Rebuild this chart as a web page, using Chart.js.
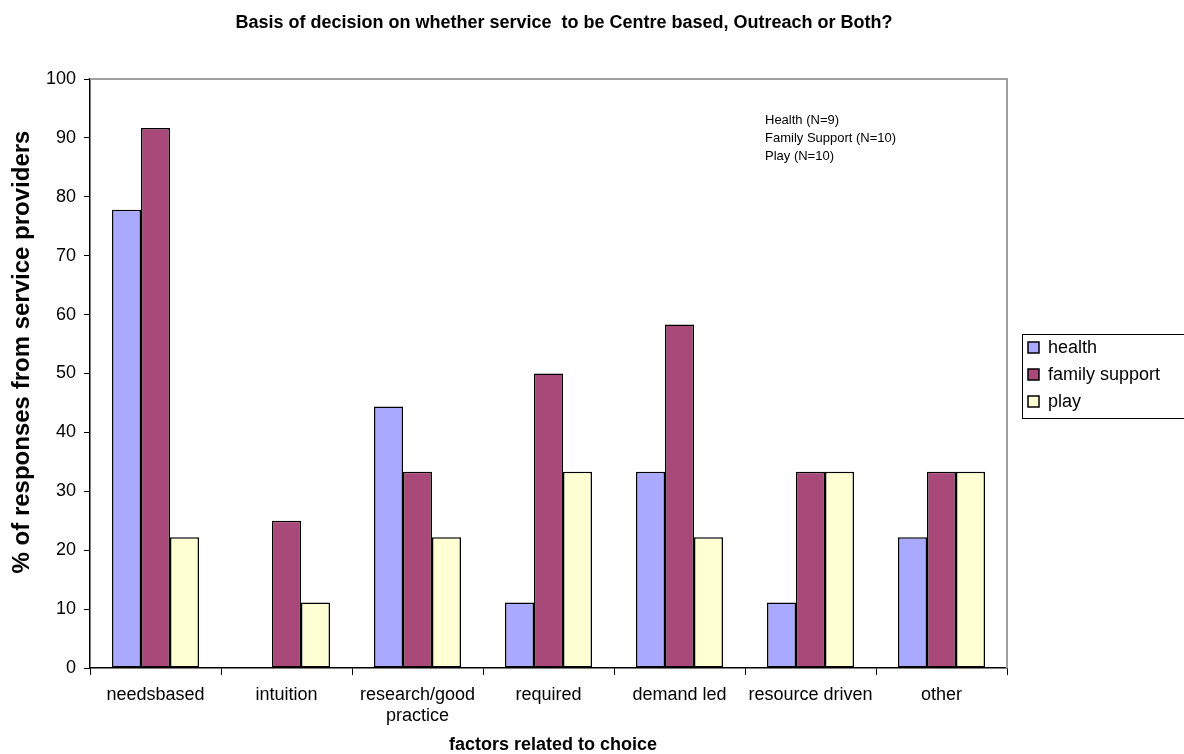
<!DOCTYPE html>
<html>
<head>
<meta charset="utf-8">
<script src="https://cdn.jsdelivr.net/npm/chart.js@4/dist/chart.umd.min.js"></script>
<style>
    html, body { margin: 0; padding: 0; background: #fff; }
    #wrap { width: 1184px; height: 754px; position: relative; }
</style>
</head>
<body>
<div id="wrap"><canvas id="chart-wrapper" width="1184" height="754"></canvas></div>
<script>
const categories = ['needsbased', 'intuition', ['research/good', 'practice'], 'required', 'demand led', 'resource driven', 'other'];
const health = [77.8, 0, 44.4, 11.1, 33.3, 11.1, 22.2];
const familySupport = [91.7, 25, 33.3, 50, 58.3, 33.3, 33.3];
const play = [22.2, 11.1, 22.2, 33.3, 22.2, 33.3, 33.3];
const notes = ['Health (N=9)', 'Family Support (N=10)', 'Play (N=10)'];

const FONT = '"Liberation Sans", Arial, sans-serif';

// titles, frame, sample-size note and legend box drawn by hand
const extras = {
    id: 'extras',
    afterDraw: (chart) => {
        const { ctx, chartArea: a } = chart;
        ctx.save();

        // grey frame on top and right of plot
        ctx.strokeStyle = '#a0a0a0';
        ctx.lineWidth = 2;
        ctx.beginPath();
        ctx.moveTo(a.left, a.top);
        ctx.lineTo(a.right, a.top);
        ctx.lineTo(a.right, a.bottom);
        ctx.stroke();

        ctx.fillStyle = '#000';
        ctx.textAlign = 'center';
        ctx.textBaseline = 'middle';
        ctx.font = 'bold 18px ' + FONT;
        ctx.fillText('Basis of decision on whether service  to be Centre based, Outreach or Both?', 564, 23);

        ctx.font = 'bold 18px ' + FONT;
        ctx.fillText('factors related to choice', 553, 745);

        ctx.save();
        ctx.translate(22, 352);
        ctx.rotate(-Math.PI / 2);
        ctx.font = 'bold 24px ' + FONT;
        ctx.fillText('% of responses from service providers', 0, 0);
        ctx.restore();

        ctx.textAlign = 'left';
        ctx.font = '13px ' + FONT;
        notes.forEach((t, i) => ctx.fillText(t, 765, 120 + i * 18));

        // legend
        ctx.strokeStyle = '#000';
        ctx.lineWidth = 1;
        ctx.strokeRect(1022.5, 334.5, 170, 84);
        ctx.font = '18px ' + FONT;
        chart.data.datasets.forEach((ds, i) => {
            const y = 348 + i * 27;
            ctx.fillStyle = ds.backgroundColor;
            ctx.fillRect(1028, y - 6, 11, 11);
            ctx.lineWidth = 1.5;
            ctx.strokeRect(1028, y - 6, 11, 11);
            ctx.fillStyle = '#000';
            ctx.fillText(ds.label, 1048, y);
        });
        ctx.restore();
    }
};

const ctx = document.getElementById('chart-wrapper');
const myChart = new Chart(ctx, {
    type: 'bar',
    data: {
        labels: categories,
        datasets: [
            { label: 'health', data: health, backgroundColor: '#a9a9ff' },
            { label: 'family support', data: familySupport, backgroundColor: '#a8497a' },
            { label: 'play', data: play, backgroundColor: '#ffffd4' },
        ].map(d => Object.assign(d, { borderColor: '#000', borderWidth: 1.5, borderSkipped: false })),
    },
    options: {
        responsive: false,
        animation: false,
        devicePixelRatio: 1,
        categoryPercentage: 0.664,
        barPercentage: 1,
        layout: { padding: { top: 79, right: 177, left: 0, bottom: 0 } },
        plugins: {
            legend: { display: false },
            title: { display: false },
            tooltip: { enabled: false },
        },
        scales: {
            x: {
                grid: { drawOnChartArea: false, color: '#000', tickLength: 7, offset: true },
                border: { color: '#000', width: 1.5 },
                ticks: { color: '#000', font: { family: FONT, size: 18 }, padding: 9, maxRotation: 0, autoSkip: false },
                afterFit: (s) => { s.height = 86; },
            },
            y: {
                min: 0,
                max: 100,
                grid: { drawOnChartArea: false, color: '#000', tickLength: 6 },
                border: { color: '#000', width: 1.5 },
                ticks: { stepSize: 10, color: '#000', font: { family: FONT, size: 18 }, padding: 8 },
                afterFit: (s) => { s.width = 90; },
            },
        },
    },
    plugins: [extras],
});
</script>
</body>
</html>
